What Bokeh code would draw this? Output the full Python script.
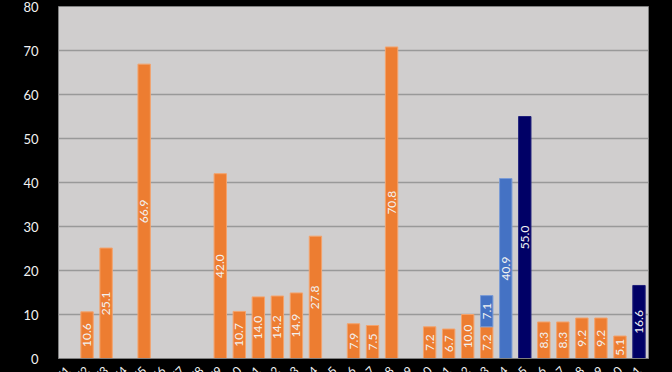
import numpy as np
from bokeh.plotting import figure
from bokeh.models import FixedTicker, Range1d
from bokeh.core.properties import value
from bokeh.embed import file_html
from bokeh.resources import INLINE

days = ["12/1", "12/2", "12/3", "12/4", "12/5", "12/6", "12/7", "12/8", "12/9", "12/10",
        "12/11", "12/12", "12/13", "12/14", "12/15", "12/16", "12/17", "12/18", "12/19", "12/20",
        "12/21", "12/22", "12/23", "12/24", "12/25", "12/26", "12/27", "12/28", "12/29", "12/30", "12/31"]
orange = [0, 10.6, 25.1, 0, 66.9, 0, 0, 0, 42.0, 10.7, 14.0, 14.2, 14.9, 27.8, 0, 7.9, 7.5, 70.8, 0,
          7.2, 6.7, 10.0, 7.2, 0, 0, 8.3, 8.3, 9.2, 9.2, 5.1, 0]
blue = [0, 0, 0, 0, 0, 0, 0, 0, 0, 0, 0, 0, 0, 0, 0, 0, 0, 0, 0,
        0, 0, 0, 7.1, 40.9, 0, 0, 0, 0, 0, 0, 0]
navy = [0, 0, 0, 0, 0, 0, 0, 0, 0, 0, 0, 0, 0, 0, 0, 0, 0, 0, 0,
        0, 0, 0, 0, 0, 55.0, 0, 0, 0, 0, 0, 16.6]
y_ticks = [0, 10, 20, 30, 40, 50, 60, 70, 80]

series = [(orange, "#ED7D31", "#F4A36C"),
          (blue, "#4472C4", "#7A9BD6"),
          (navy, "#000066", "#1F1F7A")]

FONT = "Lato"
TXT = "#F2F2F2"

# the chart, like the reference, runs a little past the bottom of the window,
# so the rotated date labels are cut off there
p = figure(x_range=days, y_range=Range1d(0, 80), width=672, height=408,
           output_backend="svg", toolbar_location=None,
           min_border_left=58, min_border_right=24, min_border_top=6, min_border_bottom=50)
p.background_fill_color = "#D0CECE"
p.border_fill_color = "#000000"
p.outline_line_color = "#7F7F7F"
p.outline_line_width = 1

p.xgrid.grid_line_color = None
p.ygrid.grid_line_color = "#999999"
p.ygrid.grid_line_width = 1.5
p.yaxis.ticker = FixedTicker(ticks=y_ticks)

base = [0.0] * len(days)
lx, ly, lt = [], [], []
for vals, fc, lc in series:
    bx, bb, bt = [], [], []
    for i, d in enumerate(days):
        v = vals[i]
        if v > 0:
            bx.append(d)
            bb.append(base[i])
            bt.append(base[i] + v)
            lx.append(d)
            ly.append(base[i] + v / 2)
            lt.append(f"{v:.1f}")
        base[i] += v
    p.vbar(x=bx, bottom=bb, top=bt, width=0.65, fill_color=fc, line_color=lc, line_width=1)

p.text(x=lx, y=ly, text=lt, angle=np.pi / 2, text_align="center", text_baseline="middle",
       text_color=TXT, text_font=value(FONT), text_font_size="12px")

p.yaxis.axis_line_color = None
p.yaxis.major_tick_line_color = None
p.yaxis.minor_tick_line_color = None
p.yaxis.major_label_standoff = 14
p.yaxis.major_label_text_color = TXT
p.yaxis.major_label_text_font = FONT
p.yaxis.major_label_text_font_size = "13px"

p.xaxis.axis_line_color = "#7F7F7F"
p.xaxis.major_tick_line_color = None
p.xaxis.minor_tick_line_color = None
p.xaxis.major_label_orientation = np.pi / 4
p.xaxis.major_label_standoff = 4
p.xaxis.major_label_text_color = TXT
p.xaxis.major_label_text_font = FONT
p.xaxis.major_label_text_font_size = "12px"

html = file_html(p, INLINE)
html = html.replace("</head>",
                    "<style>html,body{background:#000000;overflow:hidden;}</style></head>", 1)
open("out.html", "w").write(html)
